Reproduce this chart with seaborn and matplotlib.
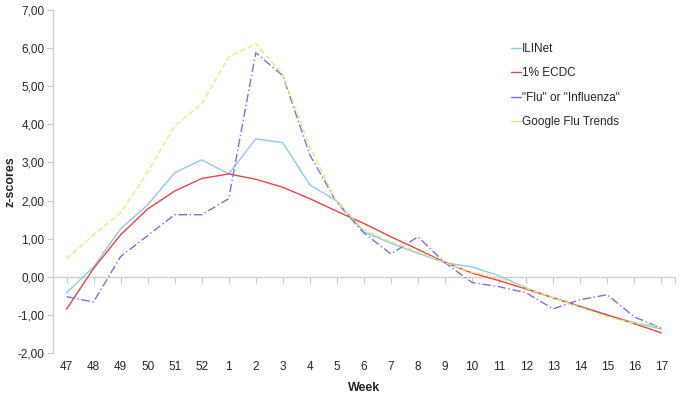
import numpy as np
import pandas as pd
import matplotlib
matplotlib.use("Agg")
import matplotlib.pyplot as plt
import seaborn as sns

weeks = ["47", "48", "49", "50", "51", "52", "1", "2", "3", "4", "5", "6",
         "7", "8", "9", "10", "11", "12", "13", "14", "15", "16", "17"]

ilinet = [-0.42, 0.26, 1.26, 1.89, 2.73, 3.07, 2.7, 3.62, 3.52, 2.41, 1.99, 1.18,
          0.88, 0.62, 0.37, 0.26, 0.03, -0.29, -0.55, -0.78, -1.0, -1.2, -1.37]
ecdc = [-0.85, 0.22, 1.1, 1.78, 2.25, 2.58, 2.7, 2.56, 2.35, 2.05, 1.72, 1.4,
        1.05, 0.72, 0.38, 0.1, -0.1, -0.32, -0.55, -0.78, -1.0, -1.23, -1.47]
flu_influenza = [-0.52, -0.66, 0.53, 1.08, 1.63, 1.63, 2.05, 5.88, 5.28, 3.2, 1.95, 1.15,
                 0.6, 1.05, 0.37, -0.15, -0.26, -0.42, -0.84, -0.6, -0.47, -1.05, -1.35]
google_flu = [0.47, 1.1, 1.68, 2.75, 3.96, 4.54, 5.77, 6.12, 5.3, 3.41, 1.95, 1.23,
              0.92, 0.66, 0.37, 0.12, -0.02, -0.3, -0.55, -0.8, -1.05, -1.22, -1.28]

series_names = ["ILINet", "1% ECDC", '"Flu" or "Influenza"', "Google Flu Trends"]
series_values = [ilinet, ecdc, flu_influenza, google_flu]
colors = ["#8ECAE6", "#E8434C", "#7F6FD6", "#D9EE80"]
dashes = [(None, None), (None, None), (6, 2, 1, 2), (4, 2)]

sns.set_theme(style="white")
plt.rcParams["font.family"] = ["Liberation Sans", "DejaVu Sans"]

fig = plt.figure(figsize=(6.83, 4.03), dpi=100)
ax = fig.add_axes([0.0776, 0.124, 0.9104, 0.851])

x = np.arange(len(weeks))
for name, vals, c, d in zip(series_names, series_values, colors, dashes):
    df = pd.DataFrame({"pos": x, "z": vals})
    sns.lineplot(data=df, x="pos", y="z", ax=ax, color=c, linewidth=1.0, label=name)
    if d[0] is not None:
        ax.lines[-1].set_dashes(d)

ax.set_xlim(-0.5, len(weeks) - 0.5)
ax.set_ylim(-2, 7)
yt = np.arange(-2, 8, 1)
ax.set_yticks(yt)
ax.set_yticklabels([f"{v:.2f}".replace(".", ",") for v in yt], fontsize=8.5)
ax.set_xticks(x)
ax.set_xticklabels(weeks, fontsize=8.5)
ax.tick_params(axis="x", length=0, pad=6)
ax.tick_params(axis="y", length=4, width=0.8, color="#C8C8C8", direction="out",
               left=True, pad=2)

for s in ["top", "right", "bottom"]:
    ax.spines[s].set_visible(False)
ax.spines["left"].set_color("#D0D0D0")
ax.spines["left"].set_linewidth(1.0)

# zero line with category ticks
zero = ax.secondary_xaxis(2 / 9)
zero.set_xticks(np.append(x, len(weeks) - 0.5))
zero.tick_params(axis="x", direction="out", length=4, width=0.8, color="#C8C8C8",
                 labelbottom=False)
zero.spines["bottom"].set_color("#D0D0D0")
zero.spines["bottom"].set_linewidth(1.0)

ax.set_xlabel("Week", fontsize=9, fontweight="bold", labelpad=6)
ax.set_ylabel("z-scores", fontsize=9, fontweight="bold")
ax.yaxis.set_label_coords(-0.058, 0.5)

leg = ax.legend(loc="upper left", bbox_to_anchor=(0.72, 0.935), frameon=False,
                fontsize=8.5, handlelength=0.8, handletextpad=0.1, labelspacing=1.05)
for h in leg.get_lines():
    h.set_linestyle("-")
    h.set_linewidth(1.0)

fig.savefig("out.png", dpi=100)
